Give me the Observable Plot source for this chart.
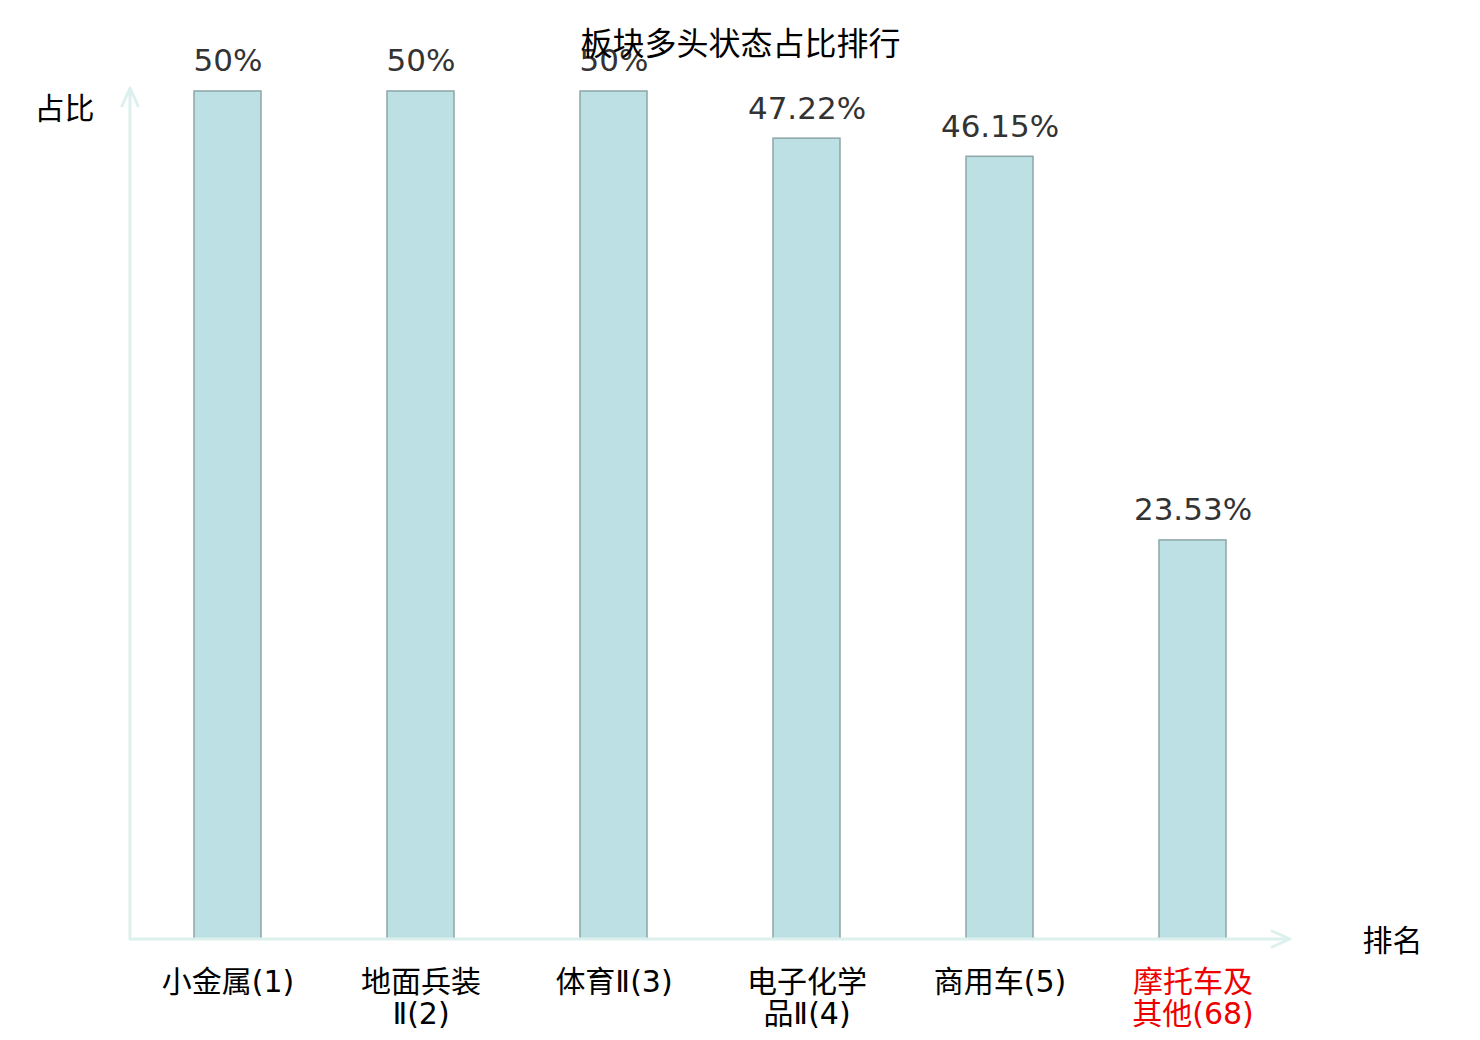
<!DOCTYPE html>
<html>
<head>
<meta charset="utf-8">
<script src="https://cdn.jsdelivr.net/npm/d3@7"></script>
<script src="https://cdn.jsdelivr.net/npm/@observablehq/plot@0.6"></script>
<style>
  html, body { margin: 0; padding: 0; background: #fff; }
  #chart { position: relative; width: 1480px; height: 1040px; }
  svg { font-family: "DejaVu Sans", "Noto Sans CJK SC", sans-serif; }
</style>
</head>
<body>
<div id="chart"></div>
<script>
const categories = ["小金属(1)", "地面兵装Ⅱ(2)", "体育Ⅱ(3)", "电子化学品Ⅱ(4)", "商用车(5)", "摩托车及其他(68)"];
const tickLines = ["小金属(1)", "地面兵装\nⅡ(2)", "体育Ⅱ(3)", "电子化学\n品Ⅱ(4)", "商用车(5)", "摩托车及\n其他(68)"];
const tickColors = ["#000", "#000", "#000", "#000", "#000", "#ee0000"];
const values = [50, 50, 50, 47.22, 46.15, 23.53];
const valueLabels = ["50%", "50%", "50%", "47.22%", "46.15%", "23.53%"];
const title = "板块多头状态占比排行";
const yLabel = "占比";
const xLabel = "排名";

const data = categories.map((c, i) => ({cat: c, value: values[i], label: valueLabels[i], tick: tickLines[i], color: tickColors[i]}));

const axisColor = "#dcf1ee";

function axesArrows(index, scales, values, dim) {
  const g = d3.create("svg:g").attr("fill", "none").attr("stroke", axisColor)
    .attr("stroke-width", 3).attr("stroke-linecap", "round").attr("stroke-linejoin", "round");
  const x0 = dim.marginLeft, y0 = dim.height - dim.marginBottom;
  const xEnd = dim.width - dim.marginRight;
  const yTop = dim.marginTop - 3;
  g.append("path").attr("d", `M${x0},${y0}H${xEnd}M${xEnd-18},${y0-8}L${xEnd},${y0}L${xEnd-18},${y0+8}`);
  g.append("path").attr("d", `M${x0},${y0}V${yTop}M${x0-8},${yTop+18}L${x0},${yTop}L${x0+8},${yTop+18}`);
  return g.node();
}

const plot = Plot.plot({
  width: 1480,
  height: 1040,
  marginLeft: 130,
  marginRight: 190,
  marginTop: 91,
  marginBottom: 101,
  style: {fontFamily: "DejaVu Sans, Noto Sans CJK SC, sans-serif", background: "transparent"},
  x: {domain: categories, padding: 0, axis: null},
  y: {domain: [0, 50], axis: null},
  color: {type: "identity"},
  marks: [
    Plot.barY(data, {x: "cat", y: "value", fill: "#bce0e3", stroke: "#8ca6a7", strokeWidth: 1.5, insetLeft: 63, insetRight: 63}),
    Plot.text(data, {x: "cat", y: "value", text: "label", dy: -30, fontSize: 31, fill: "#333"}),
    axesArrows,
    Plot.text(data, {x: "cat", text: "tick", frameAnchor: "bottom", lineAnchor: "top", dy: 30, fontSize: 30, lineHeight: 1.07, fill: "color"}),
    Plot.text([yLabel], {frameAnchor: "top-left", dx: -96, dy: 6, fontSize: 30, fill: "#000", textAnchor: "start"}),
    Plot.text([xLabel], {frameAnchor: "bottom-right", dx: 72, dy: 2, fontSize: 30, fill: "#000", textAnchor: "start", lineAnchor: "middle"}),
    Plot.text([title], {frameAnchor: "top", dx: 30, dy: -59, fontSize: 32, fill: "#000"})
  ]
});
document.getElementById("chart").appendChild(plot);
</script>
</body>
</html>
